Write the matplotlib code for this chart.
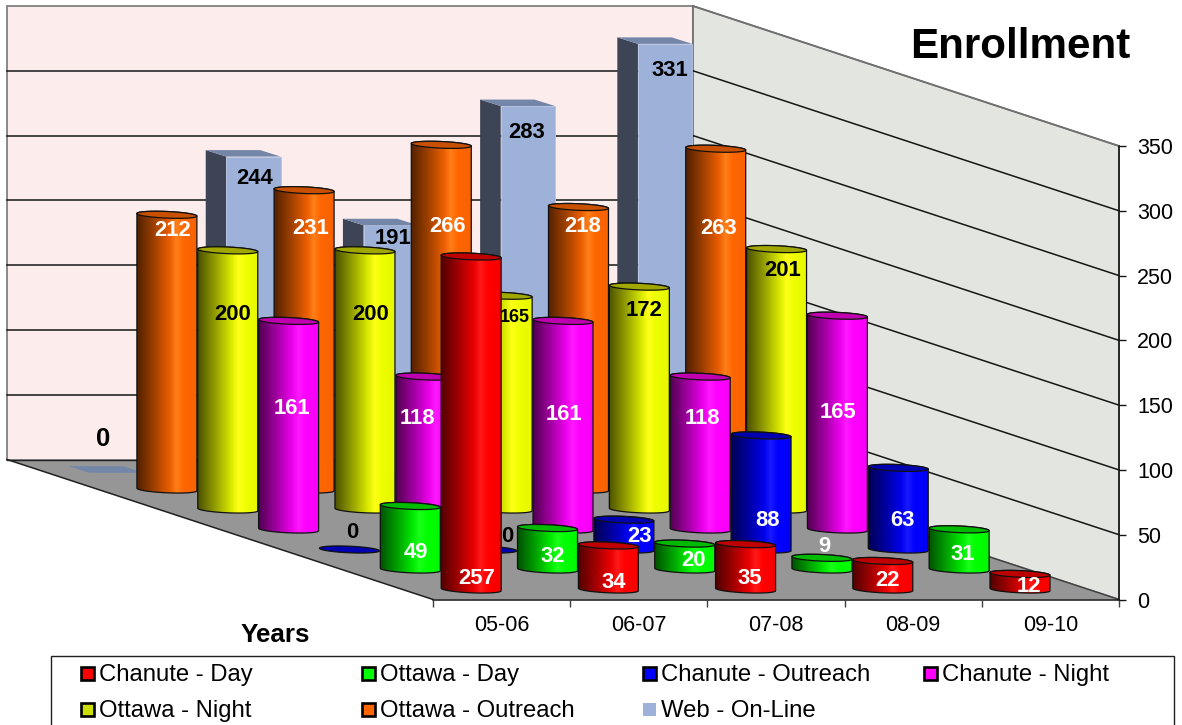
import numpy as np
import matplotlib
matplotlib.use("Agg")
import matplotlib.pyplot as plt
from matplotlib.colors import LinearSegmentedColormap, to_rgb
from matplotlib.patches import Polygon, Rectangle
from matplotlib.transforms import Affine2D

plt.rcParams["font.family"] = ["Liberation Sans", "DejaVu Sans"]

# ---- data ----
years = ["05-06", "06-07", "07-08", "08-09", "09-10"]
series_names = ["Chanute - Day", "Ottawa - Day", "Chanute - Outreach", "Chanute - Night",
                "Ottawa - Night", "Ottawa - Outreach", "Web - On-Line"]
chanute_day = [257, 34, 35, 22, 12]
ottawa_day = [49, 32, 20, 9, 31]
chanute_outreach = [0, 0, 23, 88, 63]
chanute_night = [161, 118, 161, 118, 165]
ottawa_night = [200, 200, 165, 172, 201]
ottawa_outreach = [212, 231, 266, 218, 263]
web_online = [0, 244, 191, 283, 331]
all_series = [chanute_day, ottawa_day, chanute_outreach, chanute_night,
              ottawa_night, ottawa_outreach, web_online]

# ---- styling ----
series_colors = ["#FF0000", "#00FF00", "#0000FF", "#FF00FF", "#EEFF00", "#FF6600", "#9DB1D9"]
cap_colors = ["#C00000", "#00BB00", "#0000B0", "#C000B0", "#A0A800", "#C85000", "#7386A8"]
WEB_SIDE = "#3D4455"
LEGEND_COLORS = ["#FF0000", "#00FF00", "#0000FF", "#FF00FF", "#CCDD00", "#FF6600", "#9DB1D9"]

# Label centres, in pixels from the top-left corner, per series and year.
label_centres = [
    [(477, 579), (614, 582), (750, 579), (887, 580), (1029, 586)],
    [(416, 552), (553, 556), (693, 560), (824, 547), (963, 554)],
    [(352, 533), (507, 536), (640, 537), (767, 520), (902, 520)],
    [(292, 409), (417, 418), (564, 414), (702, 418), (838, 412)],
    [(233, 314), (371, 315), (515, 317), (644, 311), (783, 270)],
    [(173, 231), (311, 229), (448, 226), (583, 227), (719, 228)],
    [(103, 439), (255, 179), (393, 239), (527, 133), (670, 71)],
]
label_colors = ["white", "white", "white", "white", "black", "white", "black"]

W, H = 1182, 725
LEFT, RIGHT = 433.0, 1119.0
BOTTOM, TOP = 599.5, 146.0
PX_PER_CAT = (RIGHT - LEFT) / len(years)
PX_PER_VAL = (BOTTOM - TOP) / 350.0

# Oblique depth of the chart box, expressed in data units per full depth.
DEPTH_X = 426.0 / PX_PER_CAT
DEPTH_V = 140.0 / PX_PER_VAL
N_SERIES = len(all_series)

fig = plt.figure(figsize=(W / 100, H / 100), dpi=100, facecolor="white")
ax = fig.add_axes([LEFT / W, 1 - BOTTOM / H, (RIGHT - LEFT) / W, (BOTTOM - TOP) / H])
ax.set_xlim(0, len(years))
ax.set_ylim(0, 350)
ax.patch.set_visible(False)
pixel = Affine2D().scale(1, -1).translate(0, H)


def slant(x, v, depth):
    """Shift a front-plane point back by depth (0 = front, 1 = back wall)."""
    return x - depth * DEPTH_X, v + depth * DEPTH_V


def gradient_cmap(color):
    c = np.array(to_rgb(color))
    stops = [(0.0, 0.32 * c), (0.30, 0.64 * c), (0.55, 0.92 * c),
             (0.66, np.minimum(1, c + 0.10)), (0.78, c), (1.0, 0.97 * c)]
    return LinearSegmentedColormap.from_list("cyl", [(p, tuple(col)) for p, col in stops])


def draw_cylinder(cat, idx, value, body_color, cap_color, z):
    depth = (idx + 0.5) / N_SERIES
    cx, base = slant(cat + 0.5, 0.0, depth)
    top = base + value
    # ellipse outline, slightly tilted so its right end sits lower
    t = np.linspace(0, 2 * np.pi, 121)
    ex = 30.0 * np.cos(t) / PX_PER_CAT
    ey = -(1.3 * np.cos(t) + 3.3 * np.sin(t)) / PX_PER_VAL
    if value > 0:
        lower_t = np.linspace(np.pi, 0, 61)
        upper_t = np.linspace(0, -np.pi, 61)
        lower = [(cx + 30.0 * np.cos(a) / PX_PER_CAT,
                  base - (1.3 * np.cos(a) + 3.3 * np.sin(a)) / PX_PER_VAL) for a in lower_t]
        upper = [(cx + 30.0 * np.cos(a) / PX_PER_CAT,
                  top - (1.3 * np.cos(a) + 3.3 * np.sin(a)) / PX_PER_VAL) for a in upper_t]
        verts = lower + upper
        clip = Polygon(verts, closed=True, facecolor="none", edgecolor="none",
                       transform=ax.transData, clip_on=False)
        half_w = 30.0 / PX_PER_CAT
        grad = np.linspace(0, 1, 256).reshape(1, -1)
        im = ax.imshow(grad, cmap=gradient_cmap(body_color), aspect="auto", origin="lower",
                       extent=(cx - half_w, cx + half_w, base - 6 / PX_PER_VAL, top + 6 / PX_PER_VAL),
                       zorder=z, interpolation="bilinear")
        im.set_clip_path(clip)
        im.set_clip_box(fig.bbox)
        ax.add_patch(Polygon(verts, closed=True, facecolor="none", edgecolor="#111111",
                             linewidth=0.9, clip_on=False, zorder=z + 0.2))
    ax.add_patch(Polygon(list(zip(cx + ex, top + ey)), closed=True, facecolor=cap_color,
                         edgecolor="#111111", linewidth=0.9, clip_on=False, zorder=z + 0.3))


def draw_box(cat, idx, value, z):
    depth = (idx + 0.5) / N_SERIES
    cx, base = slant(cat + 0.5, 0.0, depth)
    hw = 27.2 / PX_PER_CAT
    dx, dv = 10.3 / PX_PER_CAT, 3.25 / PX_PER_VAL
    fl, fr = cx + dx - hw, cx + dx + hw
    bl, br = cx - dx - hw, cx - dx + hw
    fb, bb = base - dv, base + dv
    ft, bt = fb + value, bb + value
    if value > 0:
        ax.add_patch(Polygon([(bl, bb), (fl, fb), (fl, ft), (bl, bt)], facecolor=WEB_SIDE,
                             edgecolor="none", clip_on=False, zorder=z))
        ax.add_patch(Polygon([(fl, fb), (fr, fb), (fr, ft), (fl, ft)], facecolor=series_colors[6],
                             edgecolor="#B8C6E4", linewidth=0.6, clip_on=False, zorder=z + 0.1))
    ax.add_patch(Polygon([(fl, ft), (fr, ft), (br, bt), (bl, bt)], facecolor=cap_colors[6],
                         edgecolor="none", clip_on=False, zorder=z + 0.2))


# ---- walls and floor ----
n = len(years)
ax.add_patch(Polygon([slant(0, 0, 1), slant(n, 0, 1), slant(n, 350, 1), slant(0, 350, 1)],
                     facecolor="#FCECEB", edgecolor="#808080", linewidth=1.3, clip_on=False, zorder=1))
ax.add_patch(Polygon([slant(n, 0, 1), slant(n, 0, 0), slant(n, 350, 0), slant(n, 350, 1)],
                     facecolor="#E3E5E0", edgecolor="#707070", linewidth=1.3, clip_on=False, zorder=1))
ax.add_patch(Polygon([slant(0, 0, 1), slant(n, 0, 1), slant(n, 0, 0), slant(0, 0, 0)],
                     facecolor="#969696", edgecolor="none", clip_on=False, zorder=1.1))
ax.plot(*zip(slant(0, 0, 1), slant(0, 0, 0)), color="#202020", lw=1.1, clip_on=False, zorder=1.2)
ax.plot(*zip(slant(0, 0, 1), slant(n, 0, 1)), color="#202020", lw=1.0, clip_on=False, zorder=1.2)
ax.plot(*zip(slant(n, 0, 1), slant(n, 0, 0)), color="#404040", lw=1.0, clip_on=False, zorder=1.2)
for v in range(50, 351, 50):
    shade = "#707070" if v == 350 else "#151515"
    if v < 350:
        ax.plot(*zip(slant(0, v, 1), slant(n, v, 1)), color=shade, lw=1.1, clip_on=False, zorder=1.3)
    ax.plot(*zip(slant(n, v, 1), slant(n, v, 0)), color=shade, lw=1.1, clip_on=False, zorder=1.3)

# ---- columns, painted from the back row forwards ----
z = 2.0
for idx in range(N_SERIES - 1, -1, -1):
    for cat, value in enumerate(all_series[idx]):
        if idx == N_SERIES - 1:
            draw_box(cat, idx, value, z)
        else:
            draw_cylinder(cat, idx, value, series_colors[idx], cap_colors[idx], z)
        lx, ly = label_centres[idx][cat]
        color = "black" if value == 0 else label_colors[idx]
        size = 15.8
        if idx == 4 and cat == 2:
            size = 13
        if idx == N_SERIES - 1 and value == 0:
            size = 18.5
        ax.text(lx, ly, str(value), transform=pixel, ha="center", va="center", color=color,
                fontsize=size, fontweight="bold", clip_on=False, zorder=z + 0.5)
        z += 1

ax.set_xlim(0, n)
ax.set_ylim(0, 350)

# ---- axes ----
for side in ("top", "left"):
    ax.spines[side].set_visible(False)
for side in ("bottom", "right"):
    ax.spines[side].set_linewidth(1.1)
    ax.spines[side].set_color("#151515")
    ax.spines[side].set_zorder(1.4)
ax.yaxis.tick_right()
ax.set_yticks(range(0, 351, 50))
ax.tick_params(axis="y", length=5, width=1.0, labelsize=15.5, pad=8, color="#151515")
ax.set_xticks(range(n + 1))
ax.set_xticklabels([])
ax.set_xticks(np.arange(n) + 0.5, years, minor=True)
ax.tick_params(axis="x", which="major", length=5, width=1.0, color="#404040")
ax.tick_params(axis="x", which="minor", length=0, labelsize=15.5, pad=11)

# ---- titles ----
fig.text(1020, 47, "Enrollment", transform=pixel, ha="center", va="center",
         fontsize=30.3, fontweight="bold")
fig.text(275, 635, "Years", transform=pixel, ha="center", va="center",
         fontsize=18.7, fontweight="bold")

# ---- legend frame with four equal columns ----
fig.add_artist(Rectangle((50.5, 655.5), 1123, 85, transform=pixel, facecolor="white",
                         edgecolor="#202020", linewidth=1.0))
COLUMN_X = [80, 361, 642, 923]
ROW_Y = [673, 709]
for i, name in enumerate(series_names):
    row, col = divmod(i, 4)
    mx, my = COLUMN_X[col], ROW_Y[row]
    outlined = i != 6
    fig.add_artist(Rectangle((mx + 1, my - 6.5), 12.5, 13, transform=pixel,
                             facecolor=LEGEND_COLORS[i],
                             edgecolor="black" if outlined else "none",
                             linewidth=1.9))
    fig.text(mx + 19, my + 2, name, transform=pixel, ha="left", va="center", fontsize=17.2)

fig.savefig("out.png", dpi=100)
